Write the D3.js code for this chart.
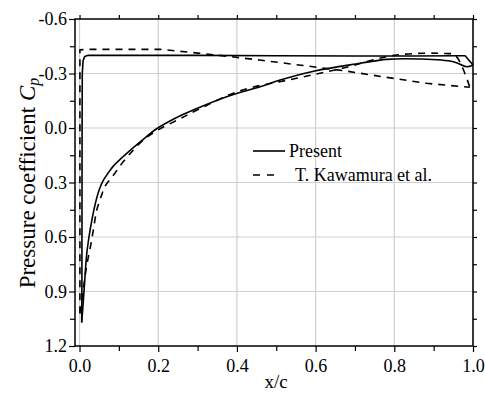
<!DOCTYPE html>
<html>
<head>
<meta charset="utf-8">
<script src="https://cdn.jsdelivr.net/npm/d3@7"></script>
<style>
  body { margin: 0; background: #fff; }
  text { font-family: "Liberation Serif", "Times New Roman", serif; fill: #000; }
</style>
</head>
<body>
<div id="chart"></div>
<script>
// Present - suction side (x/c, Cp)
var presentUpperX = [0.0055, 0.006, 0.0065, 0.007, 0.009, 0.013, 0.022, 0.1, 0.3, 0.5, 0.7, 0.85, 0.96, 0.98, 1.0];
var presentUpperCp = [1.07, 0.9, 0.0, -0.3, -0.37, -0.393, -0.40, -0.40, -0.40, -0.398, -0.396, -0.396, -0.398, -0.398, -0.347];
// Present - pressure side
var presentLowerX = [0.0055, 0.008, 0.012, 0.018, 0.024, 0.032, 0.042, 0.050, 0.060, 0.072, 0.086, 0.12, 0.158, 0.196, 0.247, 0.289, 0.374, 0.459, 0.51, 0.598, 0.713, 0.78, 0.865, 0.95, 0.984, 1.0];
var presentLowerCp = [1.07, 1.0, 0.88, 0.70, 0.60, 0.50, 0.40, 0.34, 0.29, 0.25, 0.21, 0.14, 0.070, 0.004, -0.058, -0.099, -0.172, -0.227, -0.264, -0.314, -0.356, -0.378, -0.38, -0.365, -0.337, -0.347];

// T. Kawamura et al. - suction side
var kawaUpperX = [0.001, 0.001, 0.02, 0.205, 0.307, 0.383, 0.458, 0.51, 0.67, 0.78, 0.882, 0.992];
var kawaUpperCp = [1.02, -0.43, -0.433, -0.433, -0.411, -0.393, -0.374, -0.36, -0.316, -0.279, -0.246, -0.224];
// T. Kawamura et al. - pressure side
var kawaLowerX = [0.001, 0.006, 0.012, 0.018, 0.028, 0.036, 0.044, 0.056, 0.065, 0.086, 0.111, 0.137, 0.162, 0.2, 0.25, 0.3, 0.408, 0.543, 0.67, 0.8, 0.93, 0.955, 0.992];
var kawaLowerCp = [1.02, 0.95, 0.85, 0.76, 0.65, 0.55, 0.45, 0.37, 0.32, 0.26, 0.186, 0.121, 0.066, 0.01, -0.045, -0.10, -0.205, -0.27, -0.33, -0.40, -0.41, -0.40, -0.224];

var xTicks = [0.0, 0.2, 0.4, 0.6, 0.8, 1.0];
var xMinor = [0.1, 0.3, 0.5, 0.7, 0.9];
var yTicks = [-0.6, -0.3, 0.0, 0.3, 0.6, 0.9, 1.2];
var yMinor = [-0.45, -0.15, 0.15, 0.45, 0.75, 1.05];

var legendNames = ["Present", "T. Kawamura et al."];

var width = 485;
var height = 396;
var mLeft = 75, mRight = 473, mTop = 19, mBottom = 346;

var svg = d3.select("#chart")
  .append("svg")
  .attr("width", width)
  .attr("height", height)
  .style("display", "block");

var x = d3.scaleLinear().domain([-0.0115, 1.0]).range([mLeft, mRight]);
var y = d3.scaleLinear().domain([-0.6, 1.2]).range([mTop, mBottom]);

// grid lines
svg.append("g")
  .selectAll("line")
  .data(xTicks)
  .enter()
  .append("line")
  .attr("x1", d => x(d)).attr("x2", d => x(d))
  .attr("y1", mTop).attr("y2", mBottom)
  .attr("stroke", "#cfcfcf").attr("stroke-width", 1.2);

svg.append("g")
  .selectAll("line")
  .data(yTicks.slice(1, -1))
  .enter()
  .append("line")
  .attr("x1", mLeft).attr("x2", mRight)
  .attr("y1", d => y(d)).attr("y2", d => y(d))
  .attr("stroke", "#cfcfcf").attr("stroke-width", 1.2);

var fmt = d => d.toFixed(1);

function styleAxis(g) {
  g.select(".domain").remove();
  g.selectAll("line").attr("stroke", "#000").attr("stroke-width", 1.2);
  g.selectAll("text").style("font-size", "18px").attr("fill", "#000");
}

// bottom
svg.append("g")
  .attr("transform", `translate(0,${mBottom})`)
  .call(d3.axisBottom(x).tickValues(xTicks).tickFormat(fmt).tickSize(6).tickPadding(7))
  .call(styleAxis);
svg.append("g")
  .attr("transform", `translate(0,${mBottom})`)
  .call(d3.axisBottom(x).tickValues(xMinor).tickFormat("").tickSize(5))
  .call(styleAxis);
// top
svg.append("g")
  .attr("transform", `translate(0,${mTop})`)
  .call(d3.axisTop(x).tickValues(xTicks.concat(xMinor)).tickFormat("").tickSize(4))
  .call(styleAxis);
// left
svg.append("g")
  .attr("transform", `translate(${mLeft},0)`)
  .call(d3.axisLeft(y).tickValues(yTicks).tickFormat(fmt).tickSize(6).tickPadding(2))
  .call(styleAxis);
svg.append("g")
  .attr("transform", `translate(${mLeft},0)`)
  .call(d3.axisLeft(y).tickValues(yMinor).tickFormat("").tickSize(5))
  .call(styleAxis);
// right
svg.append("g")
  .attr("transform", `translate(${mRight},0)`)
  .call(d3.axisRight(y).tickValues(yTicks.concat(yMinor)).tickFormat("").tickSize(4))
  .call(styleAxis);

// frame
svg.append("rect")
  .attr("x", mLeft).attr("y", mTop)
  .attr("width", mRight - mLeft).attr("height", mBottom - mTop)
  .attr("fill", "none").attr("stroke", "#000").attr("stroke-width", 1.5);

var line = d3.line()
  .x(d => x(d[0]))
  .y(d => y(d[1]));
// smooth curve for the pressure side
var smooth = d3.line()
  .x(d => x(d[0]))
  .y(d => y(d[1]))
  .curve(d3.curveCatmullRom.alpha(0.5));

function pts(xs, cs) { return xs.map((v, i) => [v, cs[i]]); }

var curves = [
  { p: pts(presentUpperX, presentUpperCp), dash: null, gen: line },
  { p: pts(presentLowerX, presentLowerCp), dash: null, gen: smooth },
  { p: pts(kawaUpperX, kawaUpperCp), dash: "7,6", gen: line },
  { p: pts(kawaLowerX, kawaLowerCp), dash: "7,6", gen: smooth }
];

svg.append("g")
  .selectAll("path")
  .data(curves)
  .enter()
  .append("path")
  .attr("d", d => d.gen(d.p))
  .attr("fill", "none")
  .attr("stroke", "#000")
  .attr("stroke-width", 1.6)
  .attr("stroke-linejoin", "round")
  .attr("stroke-dasharray", d => d.dash);

// legend
var legend = svg.append("g");
var legendDash = [null, "7,7"];
legendNames.forEach((name, i) => {
  var ly = 151 + i * 24;
  legend.append("line")
    .attr("x1", 253).attr("x2", i == 0 ? 285 : 277)
    .attr("y1", ly).attr("y2", ly)
    .attr("stroke", "#000").attr("stroke-width", 1.6)
    .attr("stroke-dasharray", legendDash[i]);
  legend.append("text")
    .attr("x", i == 0 ? 289 : 295).attr("y", ly + 6)
    .style("font-size", "18px")
    .text(name);
});

// axis titles
svg.append("text")
  .attr("x", (mLeft + mRight) / 2 + 2).attr("y", 388)
  .attr("text-anchor", "middle")
  .style("font-size", "19px")
  .text("x/c");

var yl = svg.append("text")
  .attr("transform", "translate(35,183) rotate(-90)")
  .attr("text-anchor", "middle")
  .style("font-size", "23px");
yl.append("tspan").text("Pressure coefficient ");
yl.append("tspan").style("font-style", "italic").text("C");
yl.append("tspan").style("font-style", "italic").style("font-size", "16px").attr("dy", 4).text("p");
</script>
</body>
</html>
